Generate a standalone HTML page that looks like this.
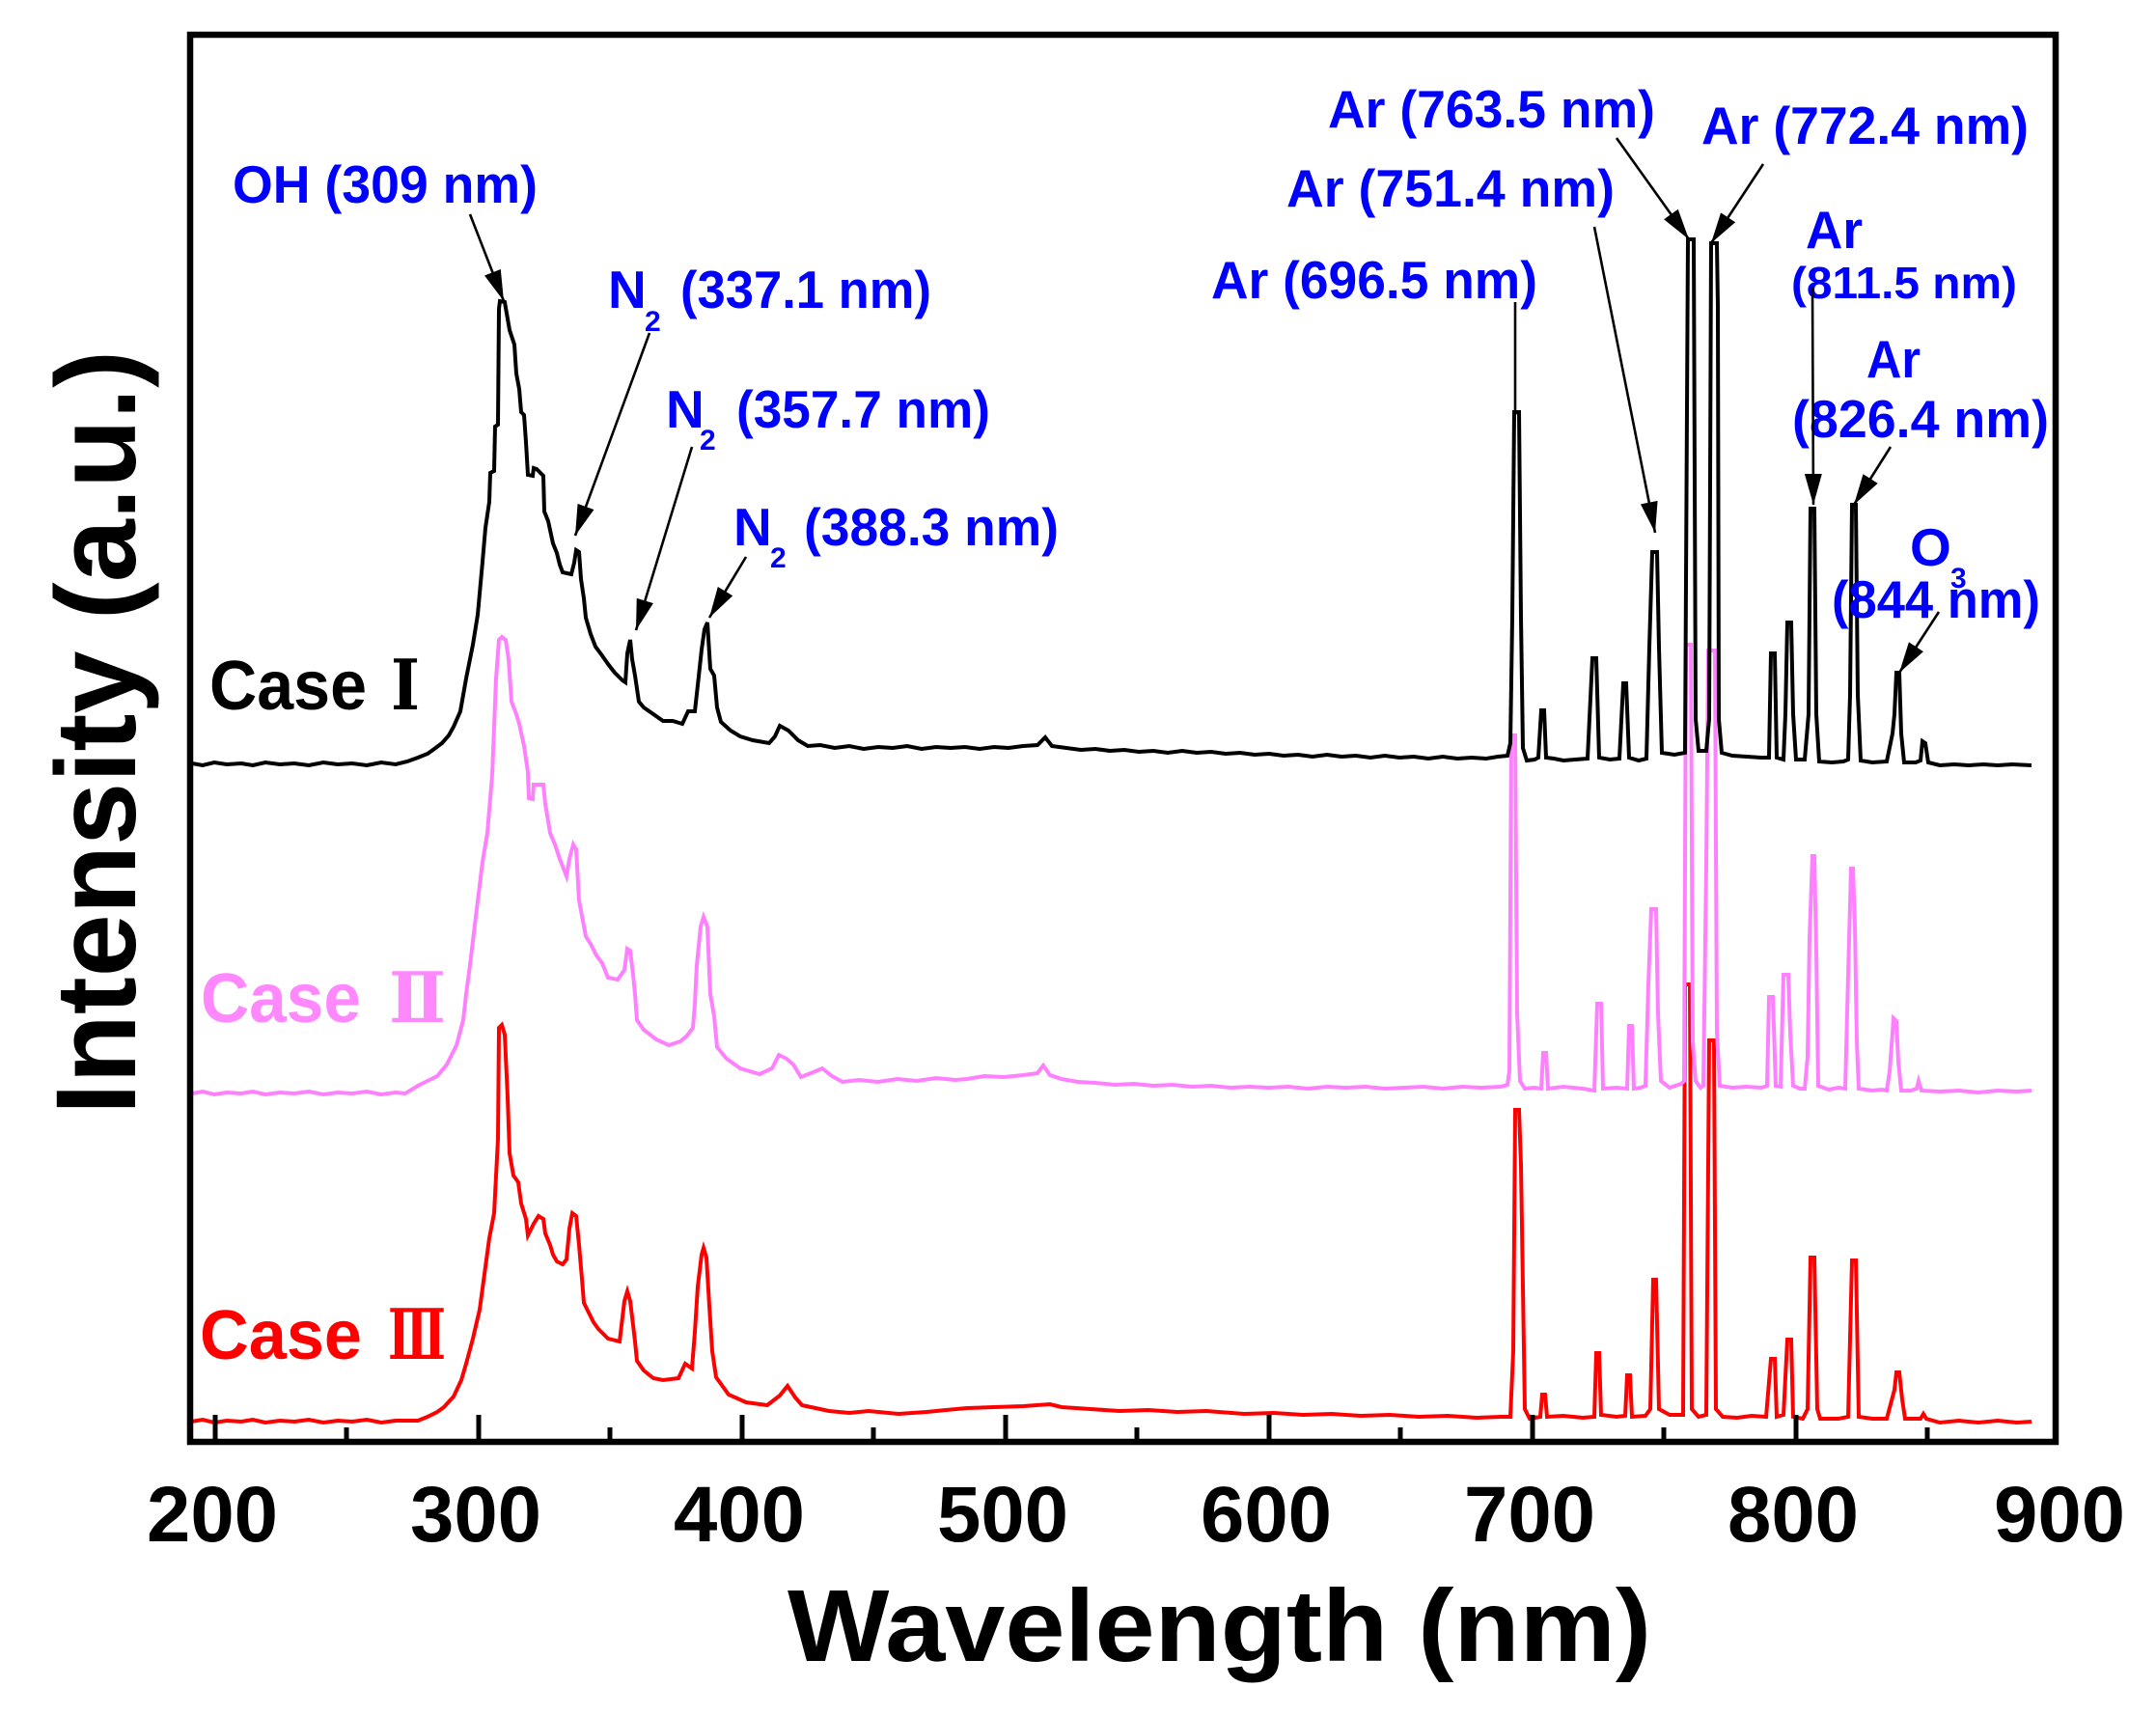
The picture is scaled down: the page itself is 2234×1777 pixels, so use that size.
<!DOCTYPE html>
<html>
<head>
<meta charset="utf-8">
<style>
html,body{margin:0;padding:0;background:#fff;}
svg{display:block;}
text{font-family:"Liberation Sans","Noto Sans CJK SC",sans-serif;font-weight:bold;}
.lb{fill:#0000ff;font-size:55px;}
.rn{font-family:"DejaVu Serif","Noto Serif CJK SC",serif;font-weight:bold;}
</style>
</head>
<body>
<svg width="2234" height="1777" viewBox="0 0 2234 1777" xmlns="http://www.w3.org/2000/svg">
<defs>
<marker id="ah" markerUnits="userSpaceOnUse" markerWidth="34" markerHeight="20" refX="32" refY="9" orient="auto">
<path d="M0,0 L32,9 L0,18 Z" fill="#000"/>
</marker>
</defs>
<rect x="0" y="0" width="2234" height="1777" fill="#fff"/>

<!-- Red: Case III -->
<polyline fill="none" stroke="#ff0000" stroke-width="4" stroke-linejoin="miter" points="198,1473 210,1471 222,1474 235,1472 250,1473 262,1471 275,1474 290,1472 305,1473 320,1471 335,1474 350,1472 365,1473 380,1471 395,1474 410,1472 425,1472 433,1472 443,1468 453,1463 460,1458 470,1447 478,1430 483,1413 490,1387 497,1357 502,1320 507,1283 512,1257 516,1180 517,1065 520,1062 523,1072 526,1137 528,1195 532,1218 537,1225 540,1247 545,1263 547,1280 553,1268 558,1260 563,1263 565,1278 570,1290 573,1300 577,1307 583,1310 587,1305 590,1273 593,1257 597,1260 600,1290 603,1325 605,1350 610,1360 615,1370 620,1377 630,1387 642,1390 647,1348 650,1338 653,1348 656,1373 658,1390 660,1410 667,1420 677,1428 687,1430 703,1428 710,1413 717,1418 720,1380 723,1333 727,1300 729,1293 732,1303 735,1353 738,1400 742,1427 755,1445 773,1453 795,1456 808,1446 816,1436 824,1448 831,1456 845,1459 859,1462 880,1464 900,1462 931,1465 960,1463 980,1461 1002,1459 1030,1458 1060,1457 1088,1455 1100,1458 1130,1460 1160,1462 1190,1461 1220,1463 1250,1462 1289,1465 1320,1464 1350,1466 1380,1465 1410,1467 1440,1466 1470,1468 1500,1467 1530,1469 1555,1468 1565,1468 1568,1400 1570,1150 1574,1150 1576,1207 1580,1460 1585,1470 1596,1468 1598,1445 1601,1445 1603,1468 1620,1467 1640,1469 1652,1468 1654,1402 1657,1402 1659,1466 1675,1468 1684,1467 1686,1425 1689,1425 1691,1468 1705,1467 1710,1460 1713,1326 1716,1326 1719,1460 1730,1466 1744,1466 1746,1020 1751,1020 1753,1460 1760,1468 1768,1466 1771,1078 1776,1078 1778,1460 1785,1468 1800,1469 1815,1467 1830,1468 1835,1408 1839,1408 1841,1468 1848,1466 1852,1388 1856,1388 1858,1468 1868,1470 1873,1460 1876,1303 1880,1303 1883,1460 1886,1470 1905,1470 1915,1468 1919,1306 1923,1306 1926,1468 1940,1470 1955,1470 1963,1440 1965,1422 1968,1422 1971,1450 1974,1470 1990,1470 1993,1465 1996,1470 2010,1474 2030,1472 2050,1474 2070,1472 2090,1474 2105,1473"/>

<!-- Pink: Case II -->
<polyline fill="none" stroke="#ff80ff" stroke-width="4" points="199,1133 210,1131 222,1134 235,1132 250,1133 262,1131 275,1134 290,1132 305,1133 320,1131 335,1134 350,1132 365,1133 380,1131 395,1134 410,1132 420,1133 433,1125 443,1120 453,1115 463,1103 473,1083 480,1057 483,1030 487,1000 493,950 500,893 505,863 510,803 514,703 517,663 520,660 524,663 527,683 530,727 535,740 538,750 543,773 547,800 548,827 552,828 553,813 563,813 565,833 570,863 575,875 580,890 587,908 590,890 594,875 597,880 600,933 607,970 612,978 618,990 624,998 630,1013 640,1015 647,1005 650,983 653,985 656,1010 658,1030 660,1057 667,1067 680,1077 693,1083 705,1079 712,1073 718,1065 720,1040 722,1000 726,960 729,950 733,960 736,1030 740,1053 743,1085 753,1097 767,1107 787,1113 800,1107 807,1093 815,1097 822,1103 830,1116 845,1110 852,1107 862,1115 873,1121 890,1119 910,1121 930,1118 950,1120 970,1117 990,1119 1002,1118 1020,1115 1040,1116 1060,1114 1075,1112 1081,1104 1088,1114 1100,1118 1117,1121 1135,1122 1155,1124 1175,1123 1195,1125 1215,1124 1235,1126 1255,1125 1275,1127 1295,1126 1315,1127 1335,1126 1355,1128 1375,1126 1395,1127 1415,1126 1435,1128 1455,1127 1475,1126 1495,1128 1515,1126 1535,1127 1555,1126 1562,1124 1564,1110 1566,762 1570,762 1572,1050 1575,1120 1580,1128 1590,1127 1597,1128 1599,1091 1602,1091 1604,1128 1620,1126 1640,1128 1652,1130 1655,1040 1659,1040 1661,1128 1675,1127 1686,1128 1688,1063 1691,1063 1693,1128 1700,1127 1705,1125 1708,1020 1711,942 1716,942 1718,1050 1721,1120 1730,1127 1742,1123 1745,1120 1747,668 1752,668 1754,1080 1757,1120 1762,1127 1765,1125 1768,897 1770,674 1777,674 1779,1070 1782,1125 1795,1127 1810,1126 1825,1127 1831,1125 1833,1033 1837,1033 1840,1125 1845,1126 1848,1010 1853,1010 1855,1070 1858,1125 1865,1128 1870,1128 1873,1095 1875,972 1878,887 1880,887 1882,985 1884,1125 1895,1129 1905,1127 1912,1128 1915,1010 1918,900 1920,900 1922,958 1924,1080 1926,1128 1940,1130 1950,1129 1955,1130 1958,1110 1961,1070 1962,1055 1965,1058 1967,1100 1970,1130 1980,1130 1986,1128 1988,1120 1991,1130 2010,1131 2030,1130 2050,1132 2070,1130 2090,1131 2105,1130"/>

<!-- Black: Case I -->
<polyline fill="none" stroke="#000" stroke-width="4" points="199,791 210,793 222,790 235,792 250,791 262,793 275,790 290,792 305,791 320,793 335,790 350,792 365,791 380,793 395,790 410,792 422,789 433,785 443,781 450,776 458,770 465,762 470,753 477,737 483,703 490,668 495,637 500,582 503,547 507,520 508,490 512,488 513,442 516,440 517,320 518,312 523,313 528,342 533,357 535,387 538,403 540,427 543,430 545,458 547,492 552,493 553,485 556,486 563,493 564,530 568,540 573,563 577,573 580,585 583,593 592,595 595,583 597,570 600,572 602,600 605,620 607,640 612,657 617,670 623,678 630,688 637,697 645,705 648,707 650,677 653,663 655,683 658,700 662,727 667,733 677,740 687,747 697,747 707,750 713,737 720,737 723,710 727,673 730,652 733,645 736,693 740,700 743,733 747,748 757,757 767,763 780,767 797,770 803,763 808,752 817,757 827,767 837,773 850,772 865,775 880,773 895,776 910,774 925,775 940,773 955,776 970,774 985,775 1000,774 1015,776 1030,774 1045,775 1060,773 1075,772 1083,764 1090,773 1105,775 1120,777 1135,776 1150,778 1165,777 1180,779 1195,778 1210,780 1225,778 1240,780 1255,779 1270,781 1285,780 1300,782 1315,781 1330,783 1345,782 1360,784 1375,782 1390,784 1405,783 1420,785 1435,783 1450,785 1465,784 1480,786 1495,784 1510,786 1525,785 1540,786 1552,784 1562,783 1565,770 1567,640 1569,427 1574,427 1576,640 1578,775 1582,788 1590,787 1594,785 1597,736 1600,736 1602,785 1610,786 1620,788 1632,787 1645,786 1650,682 1654,682 1657,785 1668,787 1678,786 1682,708 1685,708 1688,785 1698,788 1706,786 1709,671 1712,572 1717,572 1719,671 1722,780 1735,782 1746,780 1749,248 1755,248 1757,745 1760,778 1768,778 1771,745 1773,252 1779,252 1780,317 1781,745 1784,780 1795,783 1810,784 1825,785 1833,785 1835,677 1839,677 1841,785 1848,787 1850,740 1852,645 1856,645 1858,740 1861,787 1870,787 1874,740 1876,527 1880,527 1882,740 1885,789 1898,790 1910,789 1915,787 1917,720 1919,523 1923,523 1925,720 1928,788 1940,790 1955,789 1961,760 1963,740 1965,697 1968,697 1970,760 1973,790 1985,790 1990,788 1992,768 1995,770 1998,790 2010,793 2025,792 2040,793 2055,792 2070,793 2085,792 2105,793"/>

<!-- Frame -->
<rect x="197" y="36" width="1933" height="1458" fill="none" stroke="#000" stroke-width="6.5"/>

<!-- Ticks -->
<g stroke="#000" stroke-width="5">
<line x1="223" y1="1492" x2="223" y2="1466"/>
<line x1="496" y1="1492" x2="496" y2="1466"/>
<line x1="769" y1="1492" x2="769" y2="1466"/>
<line x1="1042" y1="1492" x2="1042" y2="1466"/>
<line x1="1315" y1="1492" x2="1315" y2="1466"/>
<line x1="1588" y1="1492" x2="1588" y2="1466"/>
<line x1="1861" y1="1492" x2="1861" y2="1466"/>
<line x1="359" y1="1492" x2="359" y2="1479"/>
<line x1="632" y1="1492" x2="632" y2="1479"/>
<line x1="905" y1="1492" x2="905" y2="1479"/>
<line x1="1178" y1="1492" x2="1178" y2="1479"/>
<line x1="1451" y1="1492" x2="1451" y2="1479"/>
<line x1="1724" y1="1492" x2="1724" y2="1479"/>
<line x1="1997" y1="1492" x2="1997" y2="1479"/>
</g>

<!-- Tick labels -->
<g font-size="82" text-anchor="middle" fill="#000">
<text x="220" y="1597" textLength="136" lengthAdjust="spacingAndGlyphs">200</text>
<text x="493" y="1597" textLength="136" lengthAdjust="spacingAndGlyphs">300</text>
<text x="766" y="1597" textLength="136" lengthAdjust="spacingAndGlyphs">400</text>
<text x="1039" y="1597" textLength="136" lengthAdjust="spacingAndGlyphs">500</text>
<text x="1312" y="1597" textLength="136" lengthAdjust="spacingAndGlyphs">600</text>
<text x="1585" y="1597" textLength="136" lengthAdjust="spacingAndGlyphs">700</text>
<text x="1858" y="1597" textLength="136" lengthAdjust="spacingAndGlyphs">800</text>
<text x="2134" y="1597" textLength="136" lengthAdjust="spacingAndGlyphs">900</text>
</g>

<!-- Axis titles -->
<text x="816" y="1721" font-size="106" textLength="895" lengthAdjust="spacingAndGlyphs" fill="#000">Wavelength (nm)</text>
<text transform="translate(140,759) rotate(-90)" x="0" y="0" font-size="118" text-anchor="middle" textLength="792" lengthAdjust="spacingAndGlyphs" fill="#000">Intensity (a.u.)</text>

<!-- Case labels -->
<text x="217" y="735" font-size="72" textLength="163" lengthAdjust="spacingAndGlyphs" fill="#000">Case</text>
<text class="rn" x="405" y="735" font-size="72" textLength="30" lengthAdjust="spacingAndGlyphs" fill="#000">Ⅰ</text>
<text x="208" y="1059" font-size="72" textLength="166" lengthAdjust="spacingAndGlyphs" fill="#ff88ff">Case</text>
<text class="rn" x="403" y="1059" font-size="72" textLength="59" lengthAdjust="spacingAndGlyphs" fill="#ff88ff">Ⅱ</text>
<text x="207" y="1408" font-size="72" textLength="168" lengthAdjust="spacingAndGlyphs" fill="#ff0000">Case</text>
<text class="rn" x="402" y="1408" font-size="72" textLength="60" lengthAdjust="spacingAndGlyphs" fill="#ff0000">Ⅲ</text>

<!-- Annotation labels -->
<text class="lb" x="241" y="210" textLength="316" lengthAdjust="spacingAndGlyphs">OH (309 nm)</text>

<text class="lb" x="630" y="319">N</text>
<text class="lb" x="668" y="343" style="font-size:30px">2</text>
<text class="lb" x="705" y="319" textLength="260" lengthAdjust="spacingAndGlyphs">(337.1 nm)</text>

<text class="lb" x="690" y="443">N</text>
<text class="lb" x="725" y="466" style="font-size:30px">2</text>
<text class="lb" x="763" y="443" textLength="263" lengthAdjust="spacingAndGlyphs">(357.7 nm)</text>

<text class="lb" x="760" y="565">N</text>
<text class="lb" x="798" y="588" style="font-size:30px">2</text>
<text class="lb" x="833" y="565" textLength="264" lengthAdjust="spacingAndGlyphs">(388.3 nm)</text>

<text class="lb" x="1376" y="132" textLength="339" lengthAdjust="spacingAndGlyphs">Ar (763.5 nm)</text>
<text class="lb" x="1763" y="149" textLength="339" lengthAdjust="spacingAndGlyphs">Ar (772.4 nm)</text>
<text class="lb" x="1333" y="214" textLength="340" lengthAdjust="spacingAndGlyphs">Ar (751.4 nm)</text>
<text class="lb" x="1255" y="309" textLength="338" lengthAdjust="spacingAndGlyphs">Ar (696.5 nm)</text>

<text class="lb" x="1871" y="257" textLength="59" lengthAdjust="spacingAndGlyphs">Ar</text>
<text class="lb" x="1856" y="309" style="font-size:46px" textLength="234" lengthAdjust="spacingAndGlyphs">(811.5 nm)</text>

<text class="lb" x="1934" y="391" textLength="56" lengthAdjust="spacingAndGlyphs">Ar</text>
<text class="lb" x="1857" y="453" textLength="266" lengthAdjust="spacingAndGlyphs">(826.4 nm)</text>

<text class="lb" x="1979" y="586">O</text>
<text class="lb" x="2021" y="609" style="font-size:30px">3</text>
<text class="lb" x="1898" y="640" textLength="216" lengthAdjust="spacingAndGlyphs">(844  nm)</text>

<!-- Arrows -->
<g stroke="#000" stroke-width="2.6" fill="none">
<line x1="487" y1="222" x2="522" y2="312" marker-end="url(#ah)"/>
<line x1="673" y1="345" x2="596" y2="555" marker-end="url(#ah)"/>
<line x1="717" y1="463" x2="659" y2="653" marker-end="url(#ah)"/>
<line x1="773" y1="577" x2="735" y2="640" marker-end="url(#ah)"/>
<line x1="1675" y1="143" x2="1750" y2="248" marker-end="url(#ah)"/>
<line x1="1827" y1="170" x2="1773" y2="252" marker-end="url(#ah)"/>
<line x1="1652" y1="235" x2="1715" y2="552" marker-end="url(#ah)"/>
<line x1="1570" y1="313" x2="1570" y2="430"/>
<line x1="1878" y1="297" x2="1879" y2="523" marker-end="url(#ah)"/>
<line x1="1959" y1="463" x2="1921" y2="523" marker-end="url(#ah)"/>
<line x1="2009" y1="634" x2="1968" y2="697" marker-end="url(#ah)"/>
</g>
</svg>
</body>
</html>
